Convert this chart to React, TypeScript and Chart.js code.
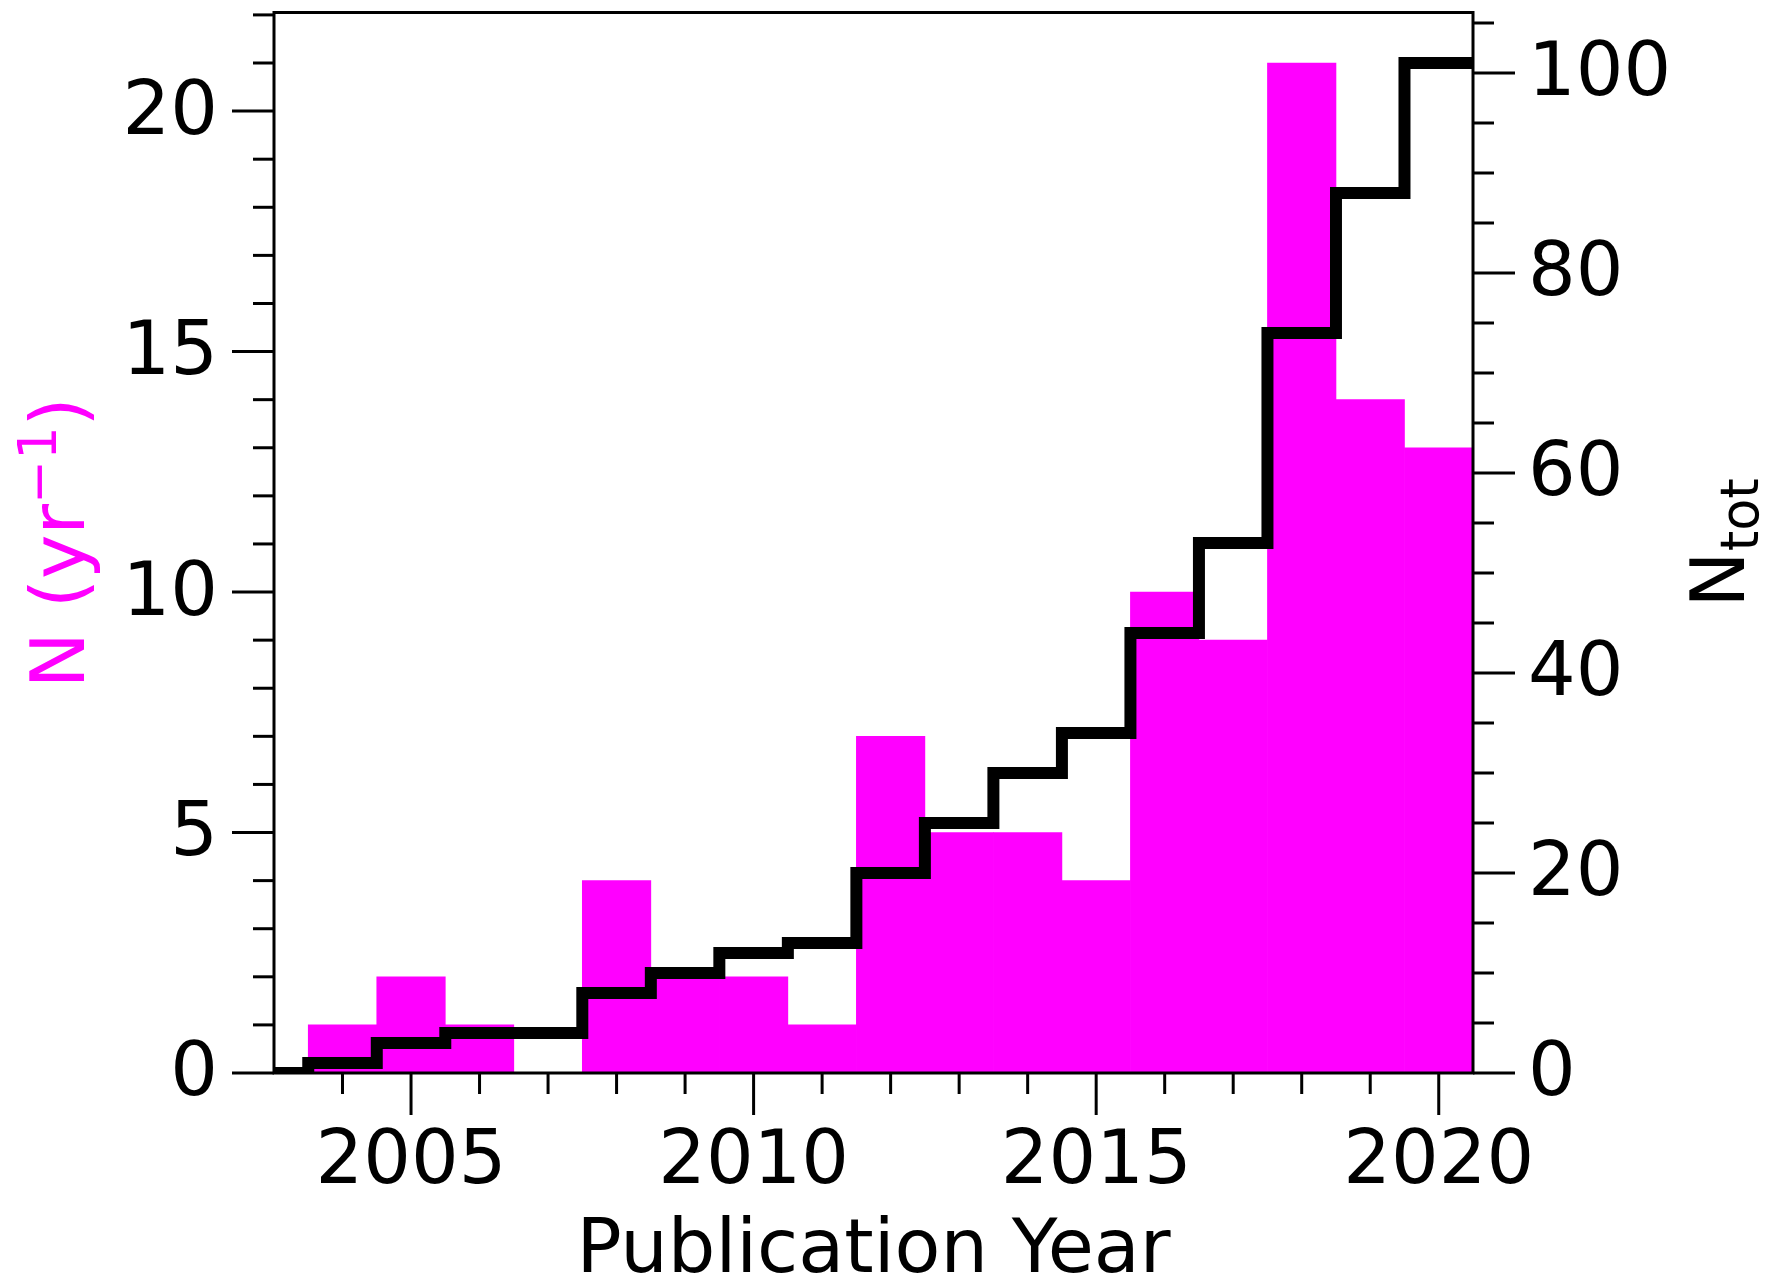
import React, { useEffect, useRef } from 'react';
import { Chart, registerables } from 'chart.js';

Chart.register(...registerables);

// ---- data ----
const years = [2003, 2004, 2005, 2006, 2007, 2008, 2009, 2010, 2011, 2012, 2013, 2014, 2015, 2016, 2017, 2018, 2019, 2020];
const papersPerYear = [0, 1, 2, 1, 0, 4, 2, 2, 1, 7, 5, 5, 4, 10, 9, 21, 14, 13];
const stepYears = [2003, 2004, 2005, 2006, 2007, 2008, 2009, 2010, 2011, 2012, 2013, 2014, 2015, 2016, 2017, 2018, 2019, 2020, 2021];
const cumulativeTotal = [0, 1, 3, 4, 4, 8, 10, 12, 13, 20, 25, 30, 34, 44, 53, 74, 88, 101, 101];

const xMajorTicks = [2005, 2010, 2015, 2020];
const xMinorTicks = [2004, 2005, 2006, 2007, 2008, 2009, 2010, 2011, 2012, 2013, 2014, 2015, 2016, 2017, 2018, 2019, 2020];
const leftMajorTicks = [0, 5, 10, 15, 20];
const leftMinorTicks = [0, 1, 2, 3, 4, 5, 6, 7, 8, 9, 10, 11, 12, 13, 14, 15, 16, 17, 18, 19, 20, 21, 22];
const rightMajorTicks = [0, 20, 40, 60, 80, 100];
const rightMinorTicks = [0, 5, 10, 15, 20, 25, 30, 35, 40, 45, 50, 55, 60, 65, 70, 75, 80, 85, 90, 95, 100, 105];

const xTitle = 'Publication Year';
const leftTitleMain = 'N (yr';
const leftTitleSup = '\u22121';
const leftTitleEnd = ')';
const rightTitleMain = 'N';
const rightTitleSub = 'tot';

const X_MIN = 2003;
const X_MAX = 2020.5;
const LEFT_MAX = 22.05;
const RIGHT_MAX = 106.05;

const W = 1765;
const H = 1283;
const MAGENTA = '#ff00ff';
const FONT = '"DejaVu Sans"';

const zeroPad = (s: any) => {
  s.paddingTop = 0;
  s.paddingBottom = 0;
  s.paddingLeft = 0;
  s.paddingRight = 0;
};

const decorPlugin = {
  id: 'decor',
  afterDatasetsDraw(chart: any) {
    const { ctx, chartArea: a, scales } = chart;
    const sx = scales.x, sy = scales.y, sy2 = scales.y2;
    ctx.save();
    ctx.strokeStyle = '#000';
    ctx.lineWidth = 3;
    ctx.lineCap = 'butt';
    const seg = (x1: number, y1: number, x2: number, y2: number) => {
      ctx.beginPath();
      ctx.moveTo(x1, y1);
      ctx.lineTo(x2, y2);
      ctx.stroke();
    };
    for (const v of xMinorTicks) {
      const p = sx.getPixelForValue(v);
      const len = xMajorTicks.includes(v) ? 42 : 21;
      seg(p, a.bottom, p, a.bottom + len);
    }
    for (const v of leftMinorTicks) {
      const p = sy.getPixelForValue(v);
      const len = leftMajorTicks.includes(v) ? 42 : 21;
      seg(a.left, p, a.left - len, p);
    }
    for (const v of rightMinorTicks) {
      const p = sy2.getPixelForValue(v);
      const len = rightMajorTicks.includes(v) ? 42 : 21;
      seg(a.right, p, a.right + len, p);
    }
    ctx.lineJoin = 'miter';
    ctx.strokeRect(a.left, a.top, a.right - a.left, a.bottom - a.top);
    ctx.restore();
  },
  afterDraw(chart: any) {
    const { ctx, chartArea: a } = chart;
    const cy = (a.top + a.bottom) / 2;
    const big = `75px ${FONT}`;
    const small = `52.5px ${FONT}`;
    ctx.save();
    ctx.textBaseline = 'alphabetic';
    ctx.textAlign = 'left';
    // left title
    ctx.font = big;
    const w1 = ctx.measureText(leftTitleMain).width;
    const w3 = ctx.measureText(leftTitleEnd).width;
    ctx.font = small;
    const w2 = ctx.measureText(leftTitleSup).width;
    const total = w1 + w2 + w3;
    ctx.save();
    ctx.translate(84, cy);
    ctx.rotate(-Math.PI / 2);
    ctx.fillStyle = MAGENTA;
    let cx = -total / 2;
    ctx.font = big;
    ctx.fillText(leftTitleMain, cx, 0);
    cx += w1;
    ctx.font = small;
    ctx.fillText(leftTitleSup, cx, -28);
    cx += w2;
    ctx.font = big;
    ctx.fillText(leftTitleEnd, cx, 0);
    ctx.restore();
    // right title
    ctx.font = big;
    const r1 = ctx.measureText(rightTitleMain).width;
    ctx.font = small;
    const r2 = ctx.measureText(rightTitleSub).width;
    const rt = r1 + r2;
    ctx.save();
    ctx.translate(1744, cy);
    ctx.rotate(-Math.PI / 2);
    ctx.fillStyle = '#000';
    ctx.font = big;
    ctx.fillText(rightTitleMain, -rt / 2, 0);
    ctx.font = small;
    ctx.fillText(rightTitleSub, -rt / 2 + r1, 14);
    ctx.restore();
    ctx.restore();
  },
};

export default function App() {
  const ref = useRef<HTMLCanvasElement | null>(null);
  useEffect(() => {
    const canvas = ref.current;
    if (!canvas) return;
    const tickFont = { family: FONT, size: 75, lineHeight: 1.2 };
    const chart = new Chart(canvas, {
      type: 'bar',
      data: {
        datasets: [
          {
            type: 'line',
            label: 'N_tot',
            data: stepYears.map((x, i) => ({ x, y: cumulativeTotal[i] })),
            yAxisID: 'y2',
            xAxisID: 'x',
            borderColor: '#000',
            borderWidth: 12,
            borderJoinStyle: 'miter',
            borderCapStyle: 'butt',
            stepped: 'middle',
            pointRadius: 0,
            fill: false,
            clip: 0,
            order: 1,
          } as any,
          {
            type: 'bar',
            label: 'N per year',
            data: years.map((x, i) => ({ x, y: papersPerYear[i] })),
            yAxisID: 'y',
            xAxisID: 'x',
            backgroundColor: MAGENTA,
            borderWidth: 0,
            barPercentage: 1,
            categoryPercentage: 1,
            clip: 0,
            order: 2,
          } as any,
        ],
      },
      options: {
        responsive: false,
        animation: false,
        devicePixelRatio: 1,
        layout: { padding: { top: 12.5, left: 0, right: 0, bottom: 0 } },
        plugins: { legend: { display: false }, tooltip: { enabled: false } },
        scales: {
          x: {
            type: 'linear',
            position: 'bottom',
            min: X_MIN,
            max: X_MAX,
            offset: false,
            grid: { display: false, drawTicks: false, tickLength: 0, offset: false },
            border: { display: false },
            afterBuildTicks: (s: any) => { s.ticks = xMajorTicks.map((v) => ({ value: v })); },
            afterFit: (s: any) => { s.height = 210; zeroPad(s); },
            ticks: {
              autoSkip: false,
              maxRotation: 0,
              minRotation: 0,
              padding: 46,
              color: '#000',
              font: tickFont,
              callback: (v: any) => String(v),
            },
            title: {
              display: true,
              text: xTitle,
              color: '#000',
              font: { family: FONT, size: 75, lineHeight: 0.8 },
              padding: { top: 0, bottom: 0 },
            },
          },
          y: {
            type: 'linear',
            position: 'left',
            min: 0,
            max: LEFT_MAX,
            grid: { display: false, drawTicks: false, tickLength: 0 },
            border: { display: false },
            afterBuildTicks: (s: any) => { s.ticks = leftMajorTicks.map((v) => ({ value: v })); },
            afterFit: (s: any) => { s.width = 274; zeroPad(s); },
            ticks: {
              padding: 56,
              labelOffset: 3,
              color: '#000',
              font: tickFont,
              callback: (v: any) => String(v),
            },
          },
          y2: {
            type: 'linear',
            position: 'right',
            min: 0,
            max: RIGHT_MAX,
            grid: { display: false, drawTicks: false, tickLength: 0 },
            border: { display: false },
            afterBuildTicks: (s: any) => { s.ticks = rightMajorTicks.map((v) => ({ value: v })); },
            afterFit: (s: any) => { s.width = W - 1473; zeroPad(s); },
            ticks: {
              padding: 55,
              labelOffset: 3,
              color: '#000',
              font: tickFont,
              callback: (v: any) => String(v),
            },
          },
        },
      },
      plugins: [decorPlugin],
    } as any);
    return () => chart.destroy();
  }, []);
  return (
    <div style={{ position: 'fixed', left: 0, top: 0, width: W, height: H, background: '#fff' }}>
      <canvas ref={ref} width={W} height={H} style={{ display: 'block', width: W, height: H }} />
    </div>
  );
}
